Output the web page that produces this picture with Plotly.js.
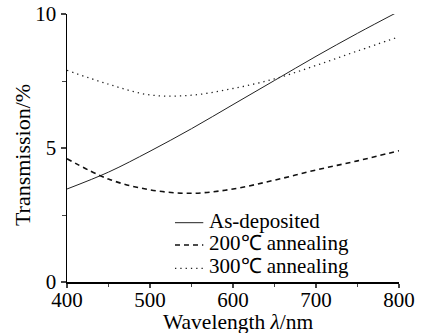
<!DOCTYPE html>
<html>
<head>
<meta charset="utf-8">
<script src="https://cdn.plot.ly/plotly-3.0.1.min.js"></script>
<style>html,body{margin:0;padding:0;background:#fff;}#chart{width:428px;height:333px;}</style>
</head>
<body>
<div id="chart"></div>
<script>
const wavelength = [400, 450, 500, 550, 600, 650, 700, 750, 800];
const asDeposited = [3.47, 4.1, 4.88, 5.72, 6.62, 7.52, 8.42, 9.28, 10.1];
const anneal200 = [4.6, 3.84, 3.44, 3.31, 3.47, 3.8, 4.18, 4.52, 4.9];
const anneal300 = [7.9, 7.38, 6.98, 6.97, 7.22, 7.58, 8.08, 8.62, 9.15];
const seriesNames = ["As-deposited", "200℃ annealing", "300℃ annealing"];
const xTicks = [400, 500, 600, 700, 800];
const yTicks = [0, 5, 10];
const xTitle = "Wavelength <i>λ</i>/nm";
const yTitle = "Transmission/%";

const font = "Liberation Serif";
const lineStyles = [
  {color: "#222", width: 1, shape: "spline", smoothing: 1},
  {color: "#111", width: 1.6, dash: "5px,4px", shape: "spline", smoothing: 1},
  {color: "#222", width: 1.3, dash: "1.3px,4px", shape: "spline", smoothing: 1}
];
const seriesValues = [asDeposited, anneal200, anneal300];
const traces = seriesValues.map((vals, i) => ({
  x: wavelength, y: vals, name: seriesNames[i], mode: "lines", line: lineStyles[i], showlegend: false
}));

// hand-built legend (tighter row spacing than Plotly's native legend)
const legendLineY = [0.2213, 0.1381, 0.0511];
const legendTextY = [0.2287, 0.1455, 0.0586];
const shapes = [], annotations = [];
seriesNames.forEach((name, i) => {
  shapes.push({type: "line", xref: "paper", yref: "paper", x0: 0.3253, x1: 0.4105,
               y0: legendLineY[i], y1: legendLineY[i],
               line: {color: lineStyles[i].color, width: lineStyles[i].width, dash: lineStyles[i].dash || "solid"}});
  annotations.push({xref: "paper", yref: "paper", x: 0.4202, y: legendTextY[i], xanchor: "left", yanchor: "middle",
                    text: name, showarrow: false, font: {family: font, size: 21, color: "#000"}});
});
annotations.push({xref: "paper", yref: "paper", x: -0.1337, y: 0.472, xanchor: "center", yanchor: "middle",
                  textangle: -90, text: yTitle, showarrow: false, font: {family: font, size: 22, color: "#000"}});
annotations.push({xref: "paper", yref: "paper", x: 0.5166, y: -0.148, xanchor: "center", yanchor: "middle",
                  text: xTitle, showarrow: false, font: {family: font, size: 21.5, color: "#000"}});

const layout = {
  width: 428, height: 333,
  margin: {l: 67, r: 29, t: 14, b: 51},
  paper_bgcolor: "#fff", plot_bgcolor: "#fff",
  font: {family: font, size: 20, color: "#000"},
  showlegend: false,
  shapes: shapes,
  annotations: annotations,
  xaxis: {range: [400, 800], tickvals: xTicks, ticks: "outside", ticklen: 4, tickwidth: 1.2,
          showline: true, linecolor: "#000", linewidth: 1.5, showgrid: false, zeroline: false,
          tickfont: {family: font, size: 21}, ticklabelstandoff: -6,
          minor: {tickvals: [450, 550, 650, 750], ticks: "outside", ticklen: 3, tickwidth: 1, showgrid: false}},
  yaxis: {range: [0, 10], tickvals: yTicks, ticks: "outside", ticklen: 5, tickwidth: 1.2,
          showline: true, linecolor: "#000", linewidth: 1.5, showgrid: false, zeroline: false,
          tickfont: {family: font, size: 21},
          minor: {tickvals: [2.5, 7.5], ticks: "outside", ticklen: 4, tickwidth: 1, showgrid: false}}
};
Plotly.newPlot("chart", traces, layout, {displayModeBar: false, staticPlot: true});
</script>
</body>
</html>
